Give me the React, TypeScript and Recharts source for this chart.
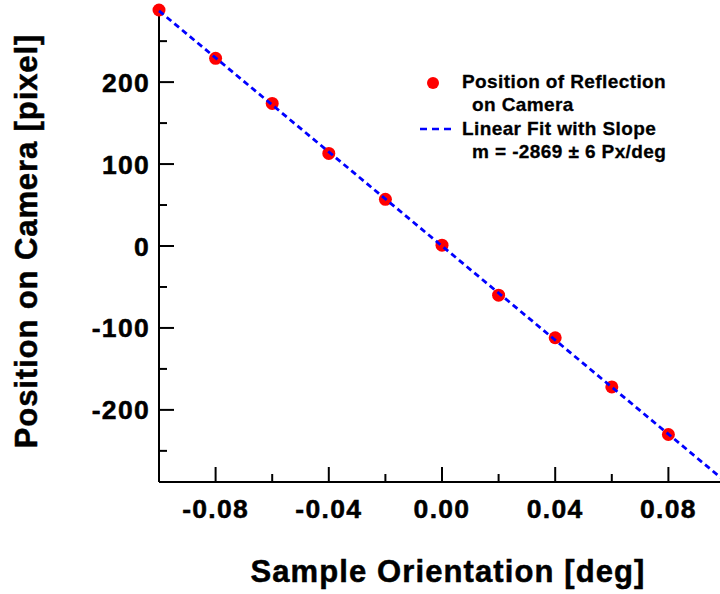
import React from "react";
import { ScatterChart, Scatter, XAxis, YAxis, Legend } from "recharts";

// measured points
const orientation = [-0.1, -0.08, -0.06, -0.04, -0.02, 0, 0.02, 0.04, 0.06, 0.08];
const position = [288, 229, 174, 113, 57, 1, -60, -112, -172, -230];

// linear fit endpoints
const fitOrientation = [-0.1, 0.1];
const fitPosition = [287, -287];

const xTicks = [-0.08, -0.06, -0.04, -0.02, 0, 0.02, 0.04, 0.06, 0.08];
const yTicks = [-250, -200, -150, -100, -50, 0, 50, 100, 150, 200, 250];

const legendLabels = ["Position of Reflection", "on Camera", "Linear Fit with Slope", "m = -2869 ± 6 Px/deg"];

const points = orientation.map((x, i) => ({ x, y: position[i] }));
const fit = fitOrientation.map((x, i) => ({ x, y: fitPosition[i] }));

const FONT = "'Liberation Sans', Arial, Helvetica, sans-serif";
const RED = "#ff0000";
const BLUE = "#0000ff";

const isMajorX = (v: number) => Math.round(v * 100) % 4 === 0;
const isMajorY = (v: number) => v % 100 === 0;

const heavy = { fontWeight: 700, fontFamily: FONT, fill: "#000", stroke: "#000", strokeWidth: 0.5 } as any;

function XTick({ x, y, payload, side }: any) {
  const v = payload.value;
  const len = isMajorX(v) ? 15 : 8;
  const dir = side === "bottom" ? -1 : 1;
  return (
    <g>
      <line x1={x} y1={y} x2={x} y2={y + dir * len} stroke="#000" strokeWidth={2} />
      {side === "bottom" && isMajorX(v) && (
        <text x={x} y={y + 36} textAnchor="middle" fontSize={26.5} letterSpacing={1.3} {...heavy}>
          {v.toFixed(2)}
        </text>
      )}
    </g>
  );
}

function YTick({ x, y, payload, side }: any) {
  const v = payload.value;
  const len = isMajorY(v) ? 15 : 8;
  const dir = side === "left" ? 1 : -1;
  return (
    <g>
      <line x1={x} y1={y} x2={x + dir * len} y2={y} stroke="#000" strokeWidth={2} />
      {side === "left" && isMajorY(v) && (
        <text x={x - 9} y={y + 9.5} textAnchor="end" fontSize={26.5} letterSpacing={1.3} {...heavy}>
          {String(v)}
        </text>
      )}
    </g>
  );
}

function LegendBox() {
  const t = { fontSize: 19, letterSpacing: 0.4, ...heavy, strokeWidth: 0.3 } as any;
  return (
    <svg width={310} height={110} style={{ display: "block" }}>
      <circle cx={23} cy={18} r={6} fill={RED} />
      <text x={52} y={23} {...t}>{legendLabels[0]}</text>
      <text x={62} y={46} {...t}>{legendLabels[1]}</text>
      <line x1={10} y1={64} x2={42} y2={64} stroke={BLUE} strokeWidth={2.5} strokeDasharray="7 5" />
      <text x={52} y={70} {...t}>{legendLabels[2]}</text>
      <text x={62} y={93} {...t}>{legendLabels[3]}</text>
    </svg>
  );
}

export default function App() {
  return (
    <div style={{ position: "absolute", left: 0, top: 0, width: 720, height: 594, overflow: "hidden", background: "#fff" }}>
      <ScatterChart width={740} height={594} margin={{ top: 10, right: 15, bottom: 82, left: 99 }}>
        <XAxis
          type="number"
          dataKey="x"
          domain={[-0.1, 0.1]}
          ticks={xTicks}
          interval={0}
          height={30}
          tickSize={0}
          tickMargin={0}
          tickLine={false}
          axisLine={{ stroke: "#000", strokeWidth: 2 }}
          tick={(p: any) => <XTick {...p} side="bottom" />}
          label={{
            content: () => (
              <text x={448} y={582} textAnchor="middle" fontSize={31} letterSpacing={1.1} {...heavy}>
                Sample Orientation [deg]
              </text>
            ),
          }}
        />
        <XAxis
          xAxisId="top"
          orientation="top"
          type="number"
          dataKey="x"
          domain={[-0.1, 0.1]}
          ticks={xTicks}
          interval={0}
          height={0}
          tickSize={0}
          tickMargin={0}
          tickLine={false}
          axisLine={{ stroke: "#000", strokeWidth: 2 }}
          tick={(p: any) => <XTick {...p} side="top" />}
        />
        <YAxis
          type="number"
          dataKey="y"
          domain={[-288, 288]}
          ticks={yTicks}
          interval={0}
          width={60}
          tickSize={0}
          tickMargin={0}
          tickLine={false}
          axisLine={{ stroke: "#000", strokeWidth: 2 }}
          tick={(p: any) => <YTick {...p} side="left" />}
          label={{
            content: () => (
              <text x={37} y={241} transform="rotate(-90 37 241)" textAnchor="middle" fontSize={31} letterSpacing={0.9} {...heavy}>
                Position on Camera [pixel]
              </text>
            ),
          }}
        />
        <YAxis
          yAxisId="right"
          orientation="right"
          type="number"
          dataKey="y"
          domain={[-288, 288]}
          ticks={yTicks}
          interval={0}
          width={0}
          tickSize={0}
          tickMargin={0}
          tickLine={false}
          axisLine={{ stroke: "#000", strokeWidth: 2 }}
          tick={(p: any) => <YTick {...p} side="right" />}
        />
        <Legend
          layout="horizontal"
          verticalAlign="middle"
          align="center"
          wrapperStyle={{ left: 410, top: 65, width: 310, height: 110 }}
          content={() => <LegendBox />}
        />
        <Scatter
          name="Position of Reflection on Camera"
          data={points}
          fill={RED}
          isAnimationActive={false}
          shape={(p: any) => <circle cx={p.cx} cy={p.cy} r={6.5} fill={RED} />}
        />
        <Scatter
          name="Linear Fit"
          data={fit}
          isAnimationActive={false}
          line={{ stroke: BLUE, strokeWidth: 2.8, strokeDasharray: "6 4" }}
          lineType="joint"
          shape={() => <g />}
        />
      </ScatterChart>
    </div>
  );
}
